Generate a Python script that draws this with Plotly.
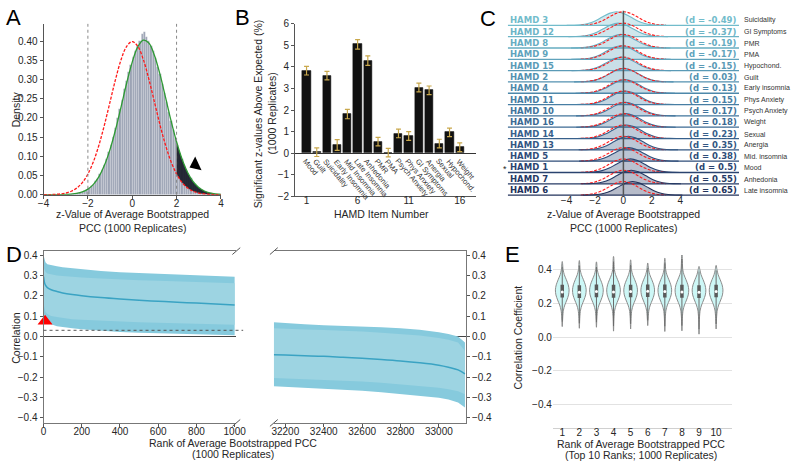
import plotly.graph_objects as go

W, H = 800, 467
def px(x): return x / W
def py(y): return 1 - y / H

TICKFONT = dict(family="Liberation Sans, Arial", size=10, color="#262626")

# ---------------- Panel A data ----------------
hist_start = -3.45
hist_width = 0.1
hist_density = [0.0000, 0.0003, 0.0003, 0.0006, 0.0006, 0.0009, 0.0012, 0.0018, 0.0021, 0.0033,
                0.0042, 0.0054, 0.0078, 0.0095, 0.0132, 0.0170, 0.0222, 0.0268, 0.0350, 0.0418,
                0.0535, 0.0650, 0.0790, 0.0940, 0.1120, 0.1310, 0.1520, 0.1740, 0.1990, 0.2240,
                0.2480, 0.2750, 0.2970, 0.3200, 0.3390, 0.3580, 0.3760, 0.3880, 0.4010, 0.4180,
                0.4250, 0.4120, 0.4020, 0.3880, 0.3740, 0.3560, 0.3330, 0.3150, 0.2890, 0.2650,
                0.2420, 0.2150, 0.1920, 0.1680, 0.1470, 0.1290, 0.1080, 0.0930, 0.0760, 0.0645,
                0.0520, 0.0430, 0.0335, 0.0275, 0.0210, 0.0168, 0.0125, 0.0100, 0.0072, 0.0056,
                0.0040, 0.0031, 0.0021, 0.0017, 0.0010]
hist_x = [round(hist_start + hist_width * i, 2) for i in range(len(hist_density))]

curve_x = [-4, -3.75, -3.5, -3.25, -3, -2.75, -2.5, -2.25, -2, -1.75, -1.5, -1.25, -1, -0.75, -0.5, -0.25,
           0, 0.25, 0.5, 0.75, 1, 1.25, 1.5, 1.75, 2, 2.25, 2.5, 2.75, 3, 3.25, 3.5, 3.75, 4]
null_curve = [0.0001, 0.0004, 0.0009, 0.0020, 0.0044, 0.0091, 0.0175, 0.0317, 0.0540, 0.0863, 0.1295,
              0.1826, 0.2420, 0.3011, 0.3521, 0.3867, 0.3989, 0.3867, 0.3521, 0.3011, 0.2420, 0.1826,
              0.1295, 0.0863, 0.0540, 0.0317, 0.0175, 0.0091, 0.0044, 0.0020, 0.0009, 0.0004, 0.0001]
fit_curve = [0.0000, 0.0000, 0.0001, 0.0003, 0.0007, 0.0016, 0.0035, 0.0074, 0.0146, 0.0271, 0.0472,
             0.0772, 0.1182, 0.1700, 0.2297, 0.2910, 0.3454, 0.3850, 0.4025, 0.3950, 0.3634, 0.3140,
             0.2543, 0.1930, 0.1379, 0.0924, 0.0579, 0.0341, 0.0188, 0.0098, 0.0047, 0.0022, 0.0009]
sig_cut = 2.0

# ---------------- Panel B data ----------------
hamd_items = list(range(1, 17))
item_names = ["Mood", "Guilt", "Suicidality", "Early Insomnia", "Mid Insomnia", "Late Insomnia",
              "Anhedonia", "PMR", "PMA", "Psych Anxiety", "Phys Anxiety", "GI Symptoms",
              "Anergia", "Sexual", "Hypochond.", "Weight"]
sig_pct = [3.83, 0.05, 3.60, 0.38, 1.82, 5.05, 4.30, 0.54, 0.03, 0.92, 0.80, 3.05, 2.92, 0.45, 0.97, 0.28]
sig_err = [0.20, 0.20, 0.20, 0.25, 0.22, 0.22, 0.22, 0.20, 0.20, 0.20, 0.20, 0.20, 0.20, 0.20, 0.20, 0.20]

# ---------------- Panel C data ----------------
ridge_hamd = [3, 12, 8, 9, 15, 2, 4, 11, 10, 16, 14, 13, 5, 1, 7, 6]
ridge_d = [-0.49, -0.37, -0.19, -0.17, -0.15, 0.03, 0.13, 0.15, 0.17, 0.18, 0.23, 0.35, 0.38, 0.5, 0.55, 0.65]
ridge_names = ["Suicidality", "GI Symptoms", "PMR", "PMA", "Hypochond.", "Guilt", "Early insomnia",
               "Phys Anxiety", "Psych Anxiety", "Weight", "Sexual", "Anergia", "Mid. insomnia",
               "Mood", "Anhedonia", "Late insomnia"]
ridge_colors = ["#72bccb", "#6cb4c6", "#66acc1", "#60a3bc", "#5a9ab6", "#5391b0", "#4d88aa", "#477ea3",
                "#41749b", "#3c6a93", "#37608b", "#325682", "#2e4c79", "#2a436f", "#263a65", "#22325b"]
profile_z = [-3.5, -3.0, -2.5, -2.0, -1.5, -1.0, -0.5, 0.0, 0.5, 1.0, 1.5, 2.0, 2.5, 3.0, 3.5]
profile_h = [0.002, 0.011, 0.044, 0.135, 0.325, 0.607, 0.882, 1.0, 0.882, 0.607, 0.325, 0.135, 0.044, 0.011, 0.002]

# ---------------- Panel D data ----------------
rank_top = [0, 5, 10, 20, 40, 70, 100, 150, 200, 300, 400, 500, 600, 700, 800, 900, 1000]
mean_top = [0.295, 0.265, 0.252, 0.240, 0.230, 0.221, 0.214, 0.206, 0.200, 0.191, 0.184, 0.178, 0.173, 0.168, 0.164, 0.159, 0.155]
up_in_top = [0.340, 0.325, 0.318, 0.310, 0.305, 0.300, 0.297, 0.293, 0.290, 0.285, 0.280, 0.277, 0.274, 0.271, 0.268, 0.265, 0.262]
up_out_top = [0.400, 0.375, 0.365, 0.355, 0.350, 0.345, 0.340, 0.335, 0.330, 0.322, 0.316, 0.312, 0.308, 0.304, 0.300, 0.297, 0.294]
lo_in_top = [0.160, 0.130, 0.120, 0.110, 0.100, 0.095, 0.090, 0.085, 0.082, 0.077, 0.073, 0.070, 0.067, 0.064, 0.062, 0.060, 0.058]
lo_out_top = [0.120, 0.090, 0.080, 0.070, 0.060, 0.050, 0.045, 0.040, 0.035, 0.028, 0.022, 0.018, 0.015, 0.012, 0.010, 0.008, 0.006]

rank_bot = [32140, 32200, 32300, 32400, 32500, 32600, 32700, 32800, 32900, 33000, 33050, 33100, 33136]
mean_bot = [-0.090, -0.092, -0.095, -0.098, -0.103, -0.108, -0.114, -0.121, -0.130, -0.142, -0.152, -0.165, -0.185]
up_out_bot = [0.070, 0.065, 0.060, 0.055, 0.052, 0.050, 0.045, 0.040, 0.033, 0.020, 0.012, 0.000, -0.030]
up_in_bot = [0.040, 0.037, 0.034, 0.031, 0.028, 0.024, 0.018, 0.012, 0.005, -0.008, -0.016, -0.030, -0.070]
lo_in_bot = [-0.205, -0.207, -0.210, -0.213, -0.217, -0.222, -0.228, -0.236, -0.244, -0.253, -0.260, -0.270, -0.285]
lo_out_bot = [-0.245, -0.248, -0.252, -0.256, -0.260, -0.268, -0.275, -0.283, -0.292, -0.302, -0.310, -0.325, -0.350]
null_threshold = 0.03

# ---------------- Panel E data ----------------
top_ranks = list(range(1, 11))
viol_top = [0.448, 0.454, 0.446, 0.478, 0.458, 0.439, 0.468, 0.493, 0.419, 0.425]
viol_bottom = [0.062, 0.052, 0.058, 0.035, 0.048, 0.068, 0.033, 0.037, 0.017, 0.048]
viol_q1 = [0.235, 0.232, 0.236, 0.233, 0.236, 0.238, 0.235, 0.233, 0.232, 0.236]
viol_median = [0.268, 0.266, 0.270, 0.268, 0.270, 0.272, 0.270, 0.268, 0.266, 0.270]
viol_q3 = [0.310, 0.308, 0.312, 0.310, 0.311, 0.312, 0.312, 0.310, 0.307, 0.311]
viol_prof_y = [0.12, 0.16, 0.19, 0.22, 0.25, 0.28, 0.31, 0.34, 0.37, 0.40]
viol_prof_w = [0.03, 0.07, 0.15, 0.27, 0.37, 0.40, 0.35, 0.24, 0.12, 0.05]

fig = go.Figure()

# ===== Panel A =====
fig.add_trace(go.Bar(x=hist_x, y=hist_density, width=hist_width, xaxis="x", yaxis="y",
                     marker=dict(color="#9ca3b5", line=dict(color="rgba(255,255,255,0.6)", width=0.4)),
                     showlegend=False, hoverinfo="skip"))
tail_x = [x for x in curve_x if x >= sig_cut]
tail_lo = [v for x, v in zip(curve_x, null_curve) if x >= sig_cut]
tail_hi = [v for x, v in zip(curve_x, fit_curve) if x >= sig_cut]
fig.add_trace(go.Scatter(x=tail_x, y=tail_lo, mode="lines", line=dict(width=0, shape="spline"),
                         xaxis="x", yaxis="y", showlegend=False, hoverinfo="skip"))
fig.add_trace(go.Scatter(x=tail_x, y=tail_hi, mode="lines", line=dict(width=0, shape="spline"),
                         fill="tonexty", fillcolor="rgba(25,28,40,0.92)",
                         xaxis="x", yaxis="y", showlegend=False, hoverinfo="skip"))
fig.add_trace(go.Scatter(x=curve_x, y=fit_curve, mode="lines", line=dict(color="#2e9a34", width=1.3, shape="spline"),
                         xaxis="x", yaxis="y", showlegend=False))
fig.add_trace(go.Scatter(x=curve_x, y=null_curve, mode="lines",
                         line=dict(color="#ff1a1a", width=1.3, shape="spline", dash="3px,1.5px"),
                         xaxis="x", yaxis="y", showlegend=False))
fig.add_trace(go.Scatter(x=[2.85], y=[0.078], mode="markers", cliponaxis=False,
                         marker=dict(symbol="triangle-left", size=13, color="black", angle=-25),
                         xaxis="x", yaxis="y", showlegend=False))

# ===== Panel B =====
fig.add_trace(go.Bar(x=hamd_items, y=sig_pct, width=0.8, xaxis="x2", yaxis="y2",
                     marker=dict(color="#111111", line=dict(color="#111111", width=0.5)),
                     error_y=dict(type="data", array=sig_err, color="#c9a84c", thickness=1.2, width=2.5),
                     showlegend=False))

# ===== Panel C =====
def rgba(hx, a):
    hx = hx.lstrip("#")
    return "rgba(%d,%d,%d,%.2f)" % (int(hx[0:2], 16), int(hx[2:4], 16), int(hx[4:6], 16), a)

RIDGE_H = 1.2
for i, (d, col) in enumerate(zip(ridge_d, ridge_colors)):
    b = -i
    xs = [d + z for z in profile_z]
    ys = [b + RIDGE_H * h for h in profile_h]
    fig.add_trace(go.Scatter(x=xs + [xs[-1], xs[0]], y=ys + [b, b], mode="lines", fill="toself",
                             fillcolor=rgba(col, 0.33), line=dict(width=0),
                             xaxis="x3", yaxis="y3", showlegend=False, hoverinfo="skip"))
    fig.add_trace(go.Scatter(x=xs, y=ys, mode="lines", line=dict(color=col, width=1.1, shape="spline"),
                             xaxis="x3", yaxis="y3", showlegend=False, hoverinfo="skip"))
    rz = [z for z in profile_z if abs(z) <= 3]
    rh = [b + RIDGE_H * h for z, h in zip(profile_z, profile_h) if abs(z) <= 3]
    fig.add_trace(go.Scatter(x=rz, y=rh, mode="lines",
                             line=dict(color="#ff1a1a", width=1.1, shape="spline", dash="3px,1.5px"),
                             xaxis="x3", yaxis="y3", showlegend=False, hoverinfo="skip"))
    fig.add_trace(go.Scatter(x=[-8.14, 8.14], y=[b, b], mode="lines", line=dict(color=col, width=1.3),
                             xaxis="x3", yaxis="y3", showlegend=False, hoverinfo="skip"))

# ===== Panel D =====
def band(xs, lo, hi, color, xa, ya):
    fig.add_trace(go.Scatter(x=xs, y=lo, mode="lines", line=dict(width=0), xaxis=xa, yaxis=ya,
                             showlegend=False, hoverinfo="skip"))
    fig.add_trace(go.Scatter(x=xs, y=hi, mode="lines", line=dict(width=0), fill="tonexty", fillcolor=color,
                             xaxis=xa, yaxis=ya, showlegend=False, hoverinfo="skip"))

FRINGE = "#86cadd"
RIBBON = "#9dd4e2"
MEANC = "#3aa3c3"
band(rank_top, lo_out_top, up_out_top, FRINGE, "x4", "y4")
band(rank_top, lo_in_top, up_in_top, RIBBON, "x4", "y4")
fig.add_trace(go.Scatter(x=rank_top, y=mean_top, mode="lines", line=dict(color=MEANC, width=1.5, shape="spline"),
                         xaxis="x4", yaxis="y4", showlegend=False))
band(rank_bot, lo_out_bot, up_out_bot, FRINGE, "x5", "y5")
band(rank_bot, lo_in_bot, up_in_bot, RIBBON, "x5", "y5")
fig.add_trace(go.Scatter(x=rank_bot, y=mean_bot, mode="lines", line=dict(color=MEANC, width=1.5, shape="spline"),
                         xaxis="x5", yaxis="y5", showlegend=False))
fig.add_trace(go.Scatter(x=[8], y=[0.075], mode="markers", cliponaxis=False,
                         marker=dict(symbol="triangle-up", size=13, color="#ff0000"),
                         xaxis="x4", yaxis="y4", showlegend=False))
fig.add_trace(go.Scatter(x=[1085], y=[0.07], mode="markers", cliponaxis=False,
                         marker=dict(symbol="triangle-left", size=13, color="black", angle=-25),
                         xaxis="x4", yaxis="y4", showlegend=False))

# ===== Panel E =====
for k, top, bot, q1, med, q3 in zip(top_ranks, viol_top, viol_bottom, viol_q1, viol_median, viol_q3):
    ys = [bot] + viol_prof_y + [top]
    ws = [0.004] + viol_prof_w + [0.004]
    vx = [k - w for w in ws] + [k + w for w in reversed(ws)]
    vy = ys + list(reversed(ys))
    fig.add_trace(go.Scatter(x=vx, y=vy, mode="lines", fill="toself", fillcolor="#cdf7f6",
                             line=dict(color="#8c8c8c", width=1, shape="spline", smoothing=0.8),
                             xaxis="x6", yaxis="y6", showlegend=False, hoverinfo="skip"))
    fig.add_trace(go.Scatter(x=[k, k], y=[bot + 0.03, top - 0.03], mode="lines", line=dict(color="#6a6a6a", width=1),
                             xaxis="x6", yaxis="y6", showlegend=False, hoverinfo="skip"))
    fig.add_trace(go.Scatter(x=[k, k], y=[q1, q3], mode="lines", line=dict(color="#5a5a5a", width=3.5),
                             xaxis="x6", yaxis="y6", showlegend=False, hoverinfo="skip"))
    fig.add_trace(go.Scatter(x=[k], y=[med], mode="markers", marker=dict(color="white", size=3),
                             xaxis="x6", yaxis="y6", showlegend=False, hoverinfo="skip"))

AX = dict(showgrid=False, zeroline=False, tickfont=TICKFONT, linecolor="#555", linewidth=1,
          ticks="outside", ticklen=3, tickcolor="#555")

layout = dict(
    width=W, height=H, margin=dict(l=0, r=0, t=0, b=0), paper_bgcolor="white", plot_bgcolor="white",
    showlegend=False, bargap=0,
    xaxis=dict(AX, domain=[px(38.3), px(219.3)], range=[-4, 4], tickvals=[-4, -2, 0, 2, 4],
               showline=True, anchor="y", ticklabelstandoff=-4),
    yaxis=dict(AX, domain=[py(193.3), py(18.3)], range=[0, 0.445],
               tickvals=[0, 0.05, 0.10, 0.15, 0.20, 0.25, 0.30, 0.35, 0.40], tickformat=".2f",
               showline=True, anchor="x"),
    xaxis2=dict(AX, domain=[px(295), px(480)], range=[-0.12, 17.63], tickvals=[1, 6, 11, 16],
                showline=True, anchor="y2", ticks="", ticklabelstandoff=-5),
    yaxis2=dict(AX, domain=[py(195), py(18.3)], range=[-2, 6], dtick=1, showline=True, anchor="x2",
                zeroline=True, zerolinecolor="#333", zerolinewidth=1),
    xaxis3=dict(AX, domain=[px(512), px(748)], range=[-8.14, 8.14], tickvals=[-4, -2, 0, 2, 4],
                showline=False, ticks="", anchor="y3", ticklabelstandoff=-4),
    yaxis3=dict(domain=[py(196), py(3)], range=[-15.2, 1.45], visible=False, anchor="x3"),
    xaxis4=dict(AX, domain=[px(38.3), px(235)], range=[0, 1008.7], tickvals=[0, 200, 400, 600, 800, 1000],
                showline=True, mirror=True, anchor="y4", linecolor="#777", ticklabelstandoff=-4),
    yaxis4=dict(AX, domain=[py(427), py(251)], range=[-0.426, 0.42], tickvals=[-0.4, -0.3, -0.2, -0.1, 0, 0.1, 0.2, 0.3, 0.4],
                tickformat=".1f", showline=True, anchor="x4", linecolor="#777",
                zeroline=True, zerolinecolor="#444", zerolinewidth=1),
    xaxis5=dict(AX, domain=[px(273.3), px(469.3)], range=[32140, 33141],
                tickvals=[32200, 32400, 32600, 32800, 33000], tickformat="d",
                showline=True, mirror=True, anchor="y5", linecolor="#777", ticklabelstandoff=-4),
    yaxis5=dict(AX, domain=[py(427), py(251)], range=[-0.426, 0.42], tickvals=[-0.4, -0.3, -0.2, -0.1, 0, 0.1, 0.2, 0.3, 0.4],
                tickformat=".1f", showline=True, side="right", anchor="x5", linecolor="#777",
                zeroline=True, zerolinecolor="#444", zerolinewidth=1),
    xaxis6=dict(AX, domain=[px(558), px(741)], range=[0.45, 10.94], tickvals=top_ranks,
                showline=True, linecolor="#d0d0d0", ticks="", anchor="y6", ticklabelstandoff=-5),
    yaxis6=dict(AX, domain=[py(432), py(255)], range=[-0.539, 0.487], tickvals=[-0.4, -0.2, 0, 0.2, 0.4],
                tickformat=".1f", showgrid=True, gridcolor="#e2e2e2", gridwidth=1, showline=False,
                ticks="", anchor="x6"),
)
fig.update_layout(**layout)

ann = []
def txt(x, y, t, size=10.5, angle=0, xanchor="center", yanchor="middle", family="Liberation Sans, Arial",
        color="#262626", xref="paper", yref="paper", **kw):
    ann.append(dict(x=x, y=y, text=t, showarrow=False, textangle=angle, xanchor=xanchor, yanchor=yanchor,
                    xref=xref, yref=yref, font=dict(family=family, size=size, color=color), **kw))

# panel letters
for L, x, y in [("A", 8, 12), ("B", 241, 12), ("C", 492, 13), ("D", 8, 255), ("E", 517, 255)]:
    txt(px(x), py(y), L, size=22, color="black")

# axis titles
txt(px(10), py(106), "Density", angle=-90)
txt(px(129), py(213), "z-Value of Average Bootstrapped")
txt(px(129), py(227), "PCC (1000 Replicates)")
txt(px(258), py(110), "Significant z-values Above Expected (%)", angle=-90)
txt(px(271.5), py(110), "(1000 Replicates)", angle=-90)
txt(px(383), py(213), "HAMD Item Number")
txt(px(630), py(213), "z-Value of Average Bootstrapped")
txt(px(630), py(227), "PCC (1000 Replicates)")
txt(px(10), py(340), "Correlation", angle=-90)
txt(px(232), py(448), "Rank of Average Bootstrapped PCC")
txt(px(232), py(459), "(1000 Replicates)")
txt(px(522), py(340), "Correlation Coefficient", angle=-90)
txt(px(648), py(449), "Rank of Average Bootstrapped PCC")
txt(px(648), py(460), "(Top 10 Ranks; 1000 Replicates)")

# Panel B item labels
for item, name in zip(hamd_items, item_names):
    txt(item, 0, name, size=7.5, angle=50, xanchor="left", yanchor="top", xref="x2", yref="y2",
        xshift=-8, yshift=-1, color="#333")

# Panel C labels
for i, (hd, d, name, col) in enumerate(zip(ridge_hamd, ridge_d, ridge_names, ridge_colors)):
    b = -i
    txt(-8.1, b, "<b>HAMD %d</b>" % hd, size=8.5, xanchor="left", yanchor="bottom", family="DejaVu Sans",
        color=col, xref="x3", yref="y3", yshift=-2)
    txt(8.12, b, "<b>(d = %s)</b>" % d, size=8.5, xanchor="right", yanchor="bottom", family="DejaVu Sans",
        color=col, xref="x3", yref="y3", yshift=-2)
    txt(px(751), b, name, size=7, xanchor="left", yanchor="bottom", color="#333", yref="y3", yshift=-1)
txt(px(509), -13, "*", size=9, xanchor="center", yanchor="middle", yref="y3", yshift=3)

fig.update_layout(annotations=ann)

shapes = [
    dict(type="line", xref="x", yref="y domain", x0=-2, x1=-2, y0=0, y1=1, line=dict(color="#888", width=1, dash="dot")),
    dict(type="line", xref="x", yref="y domain", x0=2, x1=2, y0=0, y1=1, line=dict(color="#888", width=1, dash="dot")),
    dict(type="line", xref="x3", yref="y3 domain", x0=0, x1=0, y0=0.01, y1=0.99, line=dict(color="#555", width=1.5)),
    dict(type="line", xref="paper", yref="y4", x0=px(38.3), x1=px(242), y0=null_threshold, y1=null_threshold,
         line=dict(color="#555", width=1, dash="dot")),
]
for (cx, cy) in [(235, 251), (235, 427), (273.3, 251), (273.3, 427)]:
    shapes.append(dict(type="line", xref="paper", yref="paper", x0=px(cx - 4), y0=py(cy + 3.5),
                       x1=px(cx + 4), y1=py(cy - 3.5), line=dict(color="#555", width=1)))
fig.update_layout(shapes=shapes)

fig.write_html("out.html", config={"displayModeBar": False},
               post_script="document.body.style.margin='0px';document.body.style.overflow='hidden';")
